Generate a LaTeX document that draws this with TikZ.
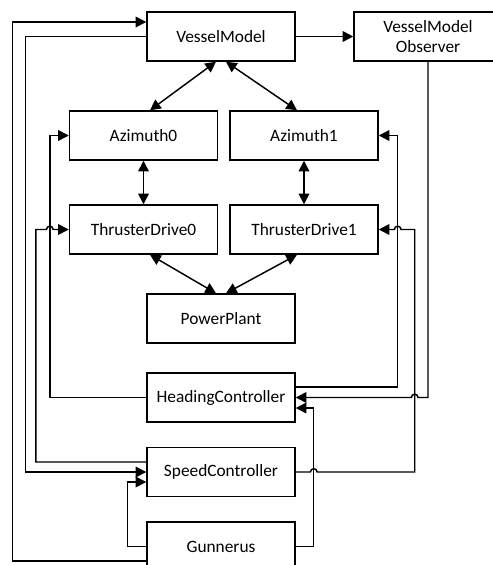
\documentclass[tikz,border=0pt]{standalone}
\usepackage{fontspec}
\setmainfont{Carlito}
\usetikzlibrary{calc,arrows.meta}

\begin{document}
\begin{tikzpicture}[x=0.75pt,y=-0.75pt,line width=1.1pt,
blk/.style={draw, minimum width=111pt, minimum height=36.75pt, inner sep=0pt,
  font=\fontsize{13}{15.6}\selectfont, align=center},
arr/.style={-{Triangle[length=8pt,width=8pt]}},
dbl/.style={{Triangle[length=8pt,width=8pt]}-{Triangle[length=8pt,width=8pt]}},
jmp/.style={radius=2.5pt}]
\useasboundingbox (0,0) rectangle (493,565);
\clip (0,0) rectangle (493,565);
\node[blk] (vm)  at (221,36.5)   {VesselModel};
\node[blk] (obs) at (428,36.5)   {VesselModel\\Observer};
\node[blk] (az0) at (143.5,135.5) {Azimuth0};
\node[blk] (az1) at (304,135.5)  {Azimuth1};
\node[blk] (td0) at (143.5,229.5) {ThrusterDrive0};
\node[blk] (td1) at (304,229.5)  {ThrusterDrive1};
\node[blk] (pp)  at (221,318.5)  {PowerPlant};
\node[blk] (hc)  at (221,397.5)  {HeadingController};
\node[blk] (sc)  at (221,472)    {SpeedController};
\node[blk] (gu)  at (221,546.5)  {Gunnerus};

\draw[arr] (vm) -- (obs);
\draw[dbl] ($(vm.south)+(-5,0)$) -- ($(az0.north)+(6.5,0)$);
\draw[dbl] ($(vm.south)+(5,0)$) -- ($(az1.north)+(-7,0)$);
\draw[dbl] (az0) -- (td0);
\draw[dbl] (az1) -- (td1);
\draw[dbl] ($(td0.south)+(6.5,0)$) -- ($(pp.north)+(-5,0)$);
\draw[dbl] ($(td1.south)+(-7,0)$) -- ($(pp.north)+(5,0)$);

\draw[arr] ($(gu.west)+(0,14.5)$) -- ++(-134,0) |- ($(vm.west)+(0,-14.5)$);
\draw[arr] (vm.west) -- ++(-121,0) |- (sc.west);
\draw[arr] (hc.west) -| ($(az0.west)+(-19,0)$) -- (az0.west);
\draw[arr] ($(sc.west)+(0,-10)$) -| ($(td0.west)+(-33,0)$) -- ($(td0.west)+(-22.3,0)$)
  arc[start angle=180,end angle=0,jmp] -- (td0.west);
\draw[arr] (gu.west) -| ($(sc.west)+(-19,10)$) -- ($(sc.west)+(0,10)$);

\draw[arr] (obs.south) |- ($(hc.east)+(122.3,0)$)
  arc[start angle=0,end angle=180,jmp] -- (hc.east);
\draw[arr] ($(hc.east)+(0,-10.5)$) -| ($(az1.east)+(19,0)$) -- (az1.east);
\draw[arr] (sc.east) -- ($(sc.east)+(14.7,0)$) arc[start angle=180,end angle=0,jmp]
  -| ($(td1.east)+(36,0)$) -- ($(td1.east)+(22.3,0)$)
  arc[start angle=0,end angle=180,jmp] -- (td1.east);
\draw[arr] (gu.east) -| ($(hc.east)+(18,10.5)$) -- ($(hc.east)+(0,10.5)$);
\end{tikzpicture}
\end{document}
